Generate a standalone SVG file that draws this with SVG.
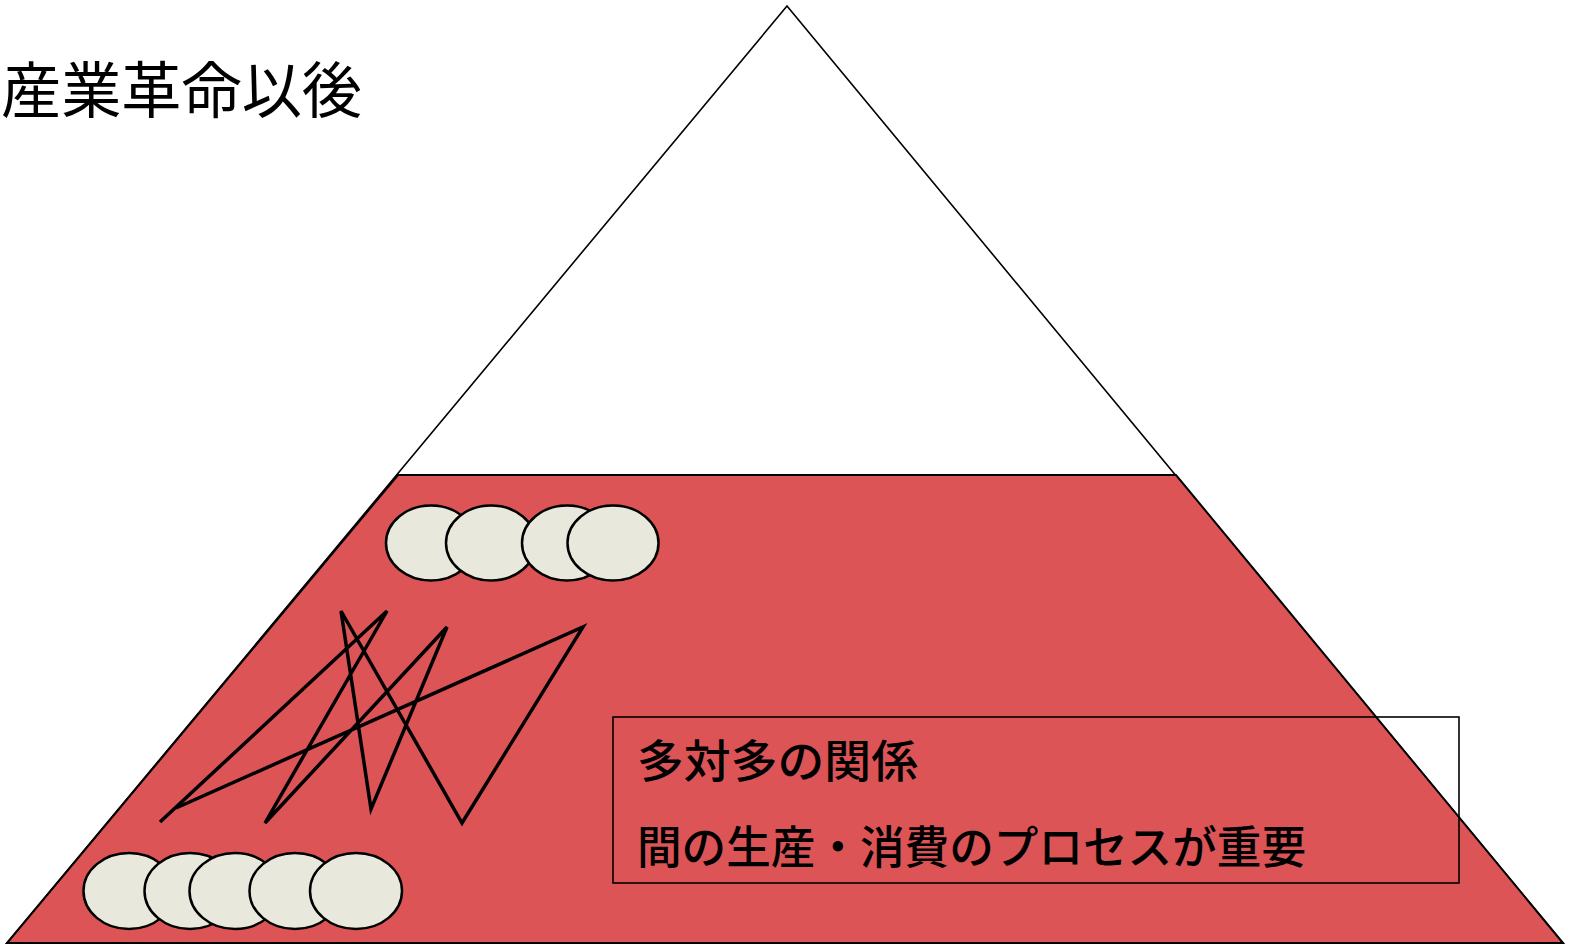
<svg xmlns="http://www.w3.org/2000/svg" width="1569" height="945" viewBox="0 0 1569 945">
  <style>
    .jp { font-family: "Noto Sans CJK JP", "Noto Sans CJK SC", sans-serif; fill: #000; }
    .oval { fill: #e8e8dc; stroke: #000; stroke-width: 2.5; }
  </style>
  <rect x="0" y="0" width="1569" height="945" fill="#ffffff"/>
  <g id="pyramid">
    <polygon points="787,6 7,943 1563,943" fill="#ffffff" stroke="#000" stroke-width="1.6"/>
  </g>
  <g id="base-layer">
    <polygon points="398,475 1176,475 1563,943 7,943" fill="#dc5456" stroke="#000" stroke-width="2"/>
  </g>
  <g id="upper-ovals">
    <ellipse class="oval" cx="431" cy="543" rx="45" ry="37.5"/>
    <ellipse class="oval" cx="491" cy="543" rx="45" ry="37.5"/>
    <ellipse class="oval" cx="567" cy="543" rx="45" ry="37.5"/>
    <ellipse class="oval" cx="613" cy="543" rx="45.5" ry="37.5"/>
  </g>
  <g id="lower-ovals">
    <ellipse class="oval" cx="129" cy="891" rx="45.5" ry="38"/>
    <ellipse class="oval" cx="190" cy="891" rx="45.5" ry="38"/>
    <ellipse class="oval" cx="235" cy="891" rx="45.5" ry="38"/>
    <ellipse class="oval" cx="295" cy="891" rx="45.5" ry="38"/>
    <ellipse class="oval" cx="356" cy="891" rx="46" ry="38"/>
  </g>
  <g id="connectors">
    <polyline points="160,822 387,611 265,823 447,627 371,809 341,611 462,823 583,627 176,808" fill="none" stroke="#000" stroke-width="3.5" stroke-linejoin="miter"/>
  </g>
  <g id="note-box">
    <rect x="613" y="717" width="846" height="166" fill="none" stroke="#000" stroke-width="1.6"/>
    <text class="jp" x="637" y="778" font-size="45" font-weight="500" textLength="281" lengthAdjust="spacingAndGlyphs">多対多の関係</text>
    <text class="jp" x="637" y="864" font-size="45" font-weight="500" textLength="669" lengthAdjust="spacingAndGlyphs">間の生産・消費のプロセスが重要</text>
  </g>
  <g id="title">
    <text class="jp" x="1" y="113" font-size="61" textLength="361" lengthAdjust="spacingAndGlyphs">産業革命以後</text>
  </g>
</svg>
